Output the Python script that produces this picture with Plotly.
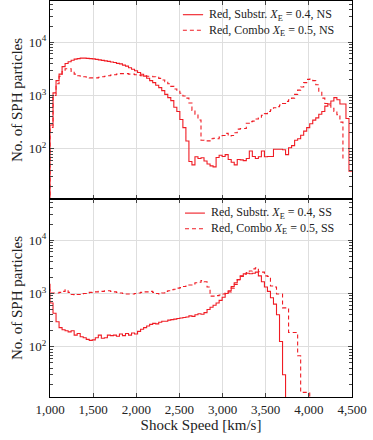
import numpy as np
import plotly.graph_objects as go
from plotly.subplots import make_subplots

# histogram bins, 35 km/s wide (first bin lies just left of the axis)
BIN_EDGES = np.arange(965, 4501, 35)

# --- NS, counts per bin ---
ns_substr = [1,
    280, 1120, 1900, 2510, 3470, 3980, 4270, 4570, 4790, 4900,
    5010, 5010, 4950, 4900, 4850, 4750, 4650, 4550, 4450, 4350,
    4250, 4150, 4000, 3900, 3700, 3550, 3300, 3100, 2900, 2700,
    2500, 2300, 2100, 1900, 1740, 1550, 1400, 1230, 1050, 910,
    800, 600, 500, 355, 250, 140, 58, 50, 71, 66,
    68, 59, 52, 48, 46, 69, 76, 72, 78, 63,
    56, 50, 63, 62, 60, 66, 91, 72, 66, 71,
    91, 71, 72, 72, 98, 98, 98, 96, 78, 105,
    115, 145, 155, 180, 215, 250, 295, 345, 380, 445,
    500, 630, 690, 790, 910, 830, 690, 690, 370, 38]

ns_combo = [1,
    251, 1000, 1660, 2290, 2820, 3160, 3160, 2820, 2510, 2340,
    2290, 2240, 2190, 2140, 2140, 2140, 2190, 2240, 2290, 2340,
    2400, 2450, 2510, 2570, 2570, 2570, 2510, 2510, 2450, 2400,
    2340, 2340, 2290, 2290, 2240, 2190, 2090, 1950, 1820, 1660,
    1480, 1320, 1200, 1100, 980, 890, 724, 525, 447, 347,
    145, 141, 141, 155, 158, 155, 166, 178, 195, 174,
    178, 200, 234, 240, 240, 302, 324, 331, 363, 380,
    427, 457, 501, 537, 589, 617, 661, 708, 776, 832,
    891, 1050, 1260, 1445, 1740, 2000, 2040, 1900, 1585, 1200,
    891, 708, 661, 575, 501, 437, 316, 65, None, None]

# --- SS, counts per bin ---
ss_substr = [1479,
    661, 427, 295, 229, 209, 200, 191, 200, 166, 178,
    155, 148, 138, 132, 135, 148, 166, 145, 148, 166,
    162, 166, 158, 174, 162, 178, 166, 182, 174, 195,
    214, 229, 245, 263, 275, 269, 288, 302, 302, 316,
    324, 331, 339, 347, 355, 363, 380, 372, 398, 417,
    407, 437, 501, 550, 603, 661, 741, 851, 1000, 1122,
    1349, 1585, 1820, 2138, 2344, 2399, 2344, 2399, 2512, 2138,
    1660, 1318, 1096, 832, 631, 398, 126, 30, 1, None,
    None, None, None, None, None, None, None, None, None, None,
    None, None, None, None, None, None, None, None, None, None]

ss_combo = [1175,
    1023, 1023, 1023, 1047, 1096, 1175, 1047, 955, 933, 955,
    977, 1000, 1023, 1047, 1072, 1072, 1096, 1096, 1122, 1122,
    1096, 1072, 1047, 1023, 1000, 977, 977, 977, 1000, 1023,
    1047, 1072, 1072, 1096, 1047, 1000, 977, 1023, 1096, 1122,
    1175, 1202, 1259, 1288, 1349, 1380, 1445, 1514, 1585, 1622,
    1738, 1660, 1318, 891, 891, 912, 933, 977, 1023, 1072,
    1259, 1479, 1820, 2089, 2291, 2455, 2630, 2884, 3020, 2570,
    2512, 2138, 2089, 1380, 1318, 977, 977, 537, 537, 186,
    186, 186, 68, 14, 14, 14, 1, None, None, None,
    None, None, None, None, None, None, None, None, None, None]

RED = "#f01c24"
FONT = "'Liberation Serif', 'DejaVu Serif', serif"
DASH = "4px,3px"


def step(vals):
    return list(BIN_EDGES), list(vals) + [vals[-1]]


fig = make_subplots(rows=2, cols=1, shared_xaxes=True, vertical_spacing=0)

series = [
    (ns_substr, "Red, Substr. <i>X</i><sub>E</sub> = 0.4, NS", "solid", 1),
    (ns_combo, "Red, Combo <i>X</i><sub>E</sub> = 0.5, NS", DASH, 1),
    (ss_substr, "Red, Substr. <i>X</i><sub>E</sub> = 0.4, SS", "solid", 2),
    (ss_combo, "Red, Combo <i>X</i><sub>E</sub> = 0.5, SS", DASH, 2),
]
for vals, name, dash, row in series:
    x, y = step(vals)
    fig.add_trace(go.Scatter(
        x=x, y=y, mode="lines", name=name, showlegend=False,
        line=dict(color=RED, width=1.1, dash=dash, shape="hv"),
    ), row=row, col=1)

# hand-made legends: one two-line label per panel, key lines drawn beside it
# (sample x0, sample x1, text x, block centre y, row offset) in paper units
legend_boxes = [
    (0.440, 0.507, 0.520, 0.9457, 0.0197),
    (0.447, 0.513, 0.527, 0.4447, 0.0197),
]
for k, (x0, x1, xt, yc, dy) in enumerate(legend_boxes):
    (_, n1, d1, _), (_, n2, d2, _) = series[2 * k], series[2 * k + 1]
    for yy, dash in ((yc + dy, d1), (yc - dy, d2)):
        fig.add_shape(type="line", xref="paper", yref="paper",
                      x0=x0, x1=x1, y0=yy, y1=yy,
                      line=dict(color=RED, width=1.1, dash=dash))
    fig.add_annotation(xref="paper", yref="paper", x=xt, y=yc,
                       text=n1 + "<br>" + n2, align="left",
                       showarrow=False, xanchor="left", yanchor="middle",
                       font=dict(family=FONT, size=12, color="#222"))

frame = dict(showline=True, linecolor="black", linewidth=1.2, mirror="allticks",
             ticks="inside", ticklen=4, tickcolor="#444", automargin=False,
             showgrid=True, gridcolor="#dedede", gridwidth=1, zeroline=False)

fig.update_xaxes(**frame, range=[1000, 4500], tick0=1000, dtick=500,
                 tickformat=",", tickfont=dict(family=FONT, size=13))
fig.update_xaxes(title=dict(text="Shock Speed [km/s]", font=dict(family=FONT, size=15),
                            standoff=2),
                 row=2, col=1)

fig.update_yaxes(**frame, type="log", range=[1.06, 4.77],
                 tickvals=[100, 1000, 10000],
                 ticktext=["10<sup>2</sup>", "10<sup>3</sup>", "10<sup>4</sup>"],
                 tickfont=dict(family=FONT, size=13),
                 minor=dict(ticks="inside", ticklen=2.5, tickcolor="#444",
                            dtick="D1", showgrid=False),
                 title=dict(text="No. of SPH particles", font=dict(family=FONT, size=15),
                            standoff=2))

fig.update_layout(
    width=373, height=440,
    margin=dict(l=50, r=21, t=1, b=43),
    plot_bgcolor="white", paper_bgcolor="white",
    font=dict(family=FONT, size=12, color="#222"),
    showlegend=False,
)

# the page body has a default 8px margin; drop it so the figure sits at 0,0
fig.write_html("out.html", config={"displayModeBar": False},
               post_script="document.body.style.margin='0';")
